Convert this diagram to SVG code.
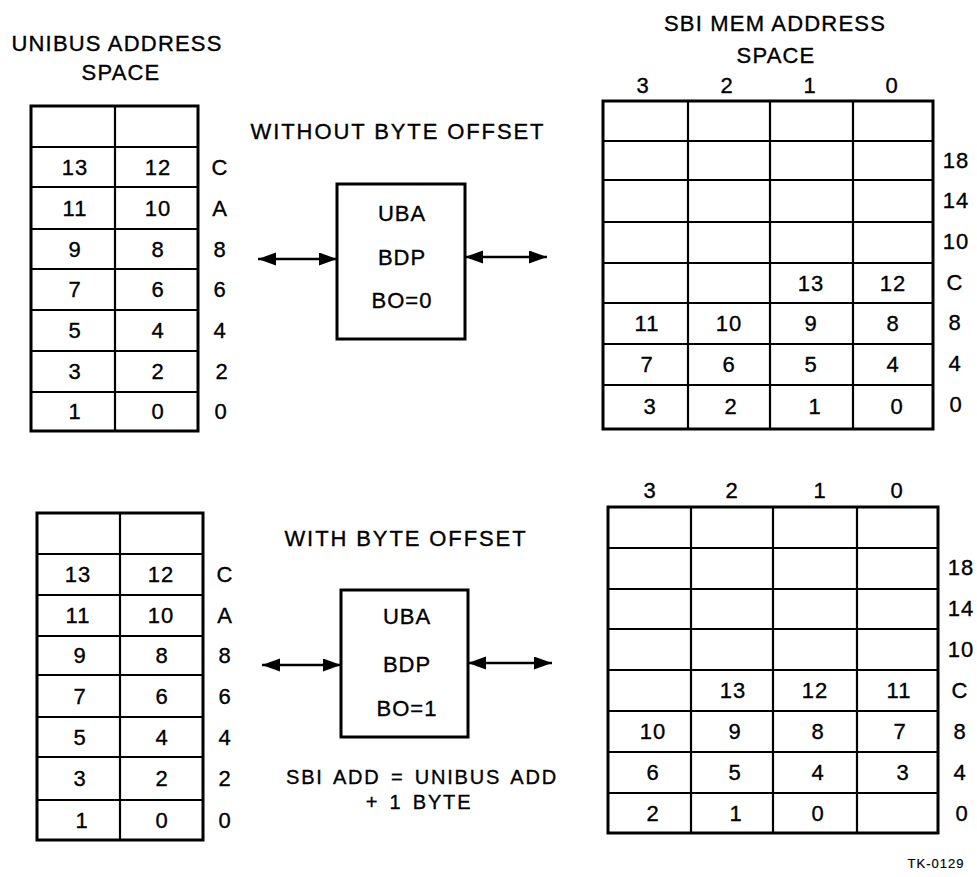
<svg xmlns="http://www.w3.org/2000/svg" width="977" height="877" viewBox="0 0 977 877">
<defs>
<style>
text{font-family:"Liberation Sans",Arial,sans-serif;font-size:22px;fill:#000;stroke:#000;stroke-width:0.35;text-anchor:middle;letter-spacing:1px}
.hd{font-size:22px;letter-spacing:1.2px}
.note{font-size:20px;letter-spacing:1.8px;word-spacing:3px}
.sm{font-size:13px;letter-spacing:1px;stroke-width:0.2}
.outer{fill:#fff;stroke:#000;stroke-width:3}
.grid{fill:none;stroke:#000;stroke-width:2.2}
.box{fill:#fff;stroke:#000;stroke-width:3}
.conn{stroke:#000;stroke-width:2.5;fill:none;marker-start:url(#ah);marker-end:url(#ah)}
</style>
<marker id="ah" markerUnits="userSpaceOnUse" markerWidth="20" markerHeight="14" refX="18" refY="6.5" orient="auto-start-reverse" viewBox="0 0 20 14">
<path d="M0,0 L18,6.5 L0,13 z" fill="#000"/>
</marker>
</defs>
<rect width="977" height="877" fill="#fff"/>

<g id="title-unibus">
<text class="hd" x="117" y="51">UNIBUS ADDRESS</text>
<text class="hd" x="121" y="80">SPACE</text>
</g>
<g id="title-sbi">
<text class="hd" x="775" y="31">SBI MEM ADDRESS</text>
<text class="hd" x="776" y="63">SPACE</text>
</g>

<g id="unibus-top">
<rect class="outer" x="31" y="106" width="167" height="325"/>
<path class="grid" d="M115,106V431 M31,147H198 M31,187H198 M31,229H198 M31,269H198 M31,310H198 M31,351H198 M31,392H198"/>
<text x="75" y="175">13</text><text x="158" y="175">12</text>
<text x="75" y="216">11</text><text x="158" y="216">10</text>
<text x="75" y="257">9</text><text x="158" y="257">8</text>
<text x="75" y="297">7</text><text x="158" y="297">6</text>
<text x="75" y="338">5</text><text x="158" y="338">4</text>
<text x="75" y="379">3</text><text x="158" y="379">2</text>
<text x="75" y="419">1</text><text x="158" y="419">0</text>
<text x="220" y="175">C</text>
<text x="220" y="216">A</text>
<text x="220" y="257">8</text>
<text x="220" y="297">6</text>
<text x="220" y="338">4</text>
<text x="222" y="379">2</text>
<text x="221" y="419">0</text>
</g>

<g id="uba-top">
<text x="398" y="139" style="letter-spacing:1.9px">WITHOUT BYTE OFFSET</text>
<rect class="box" x="337" y="184" width="128" height="155"/>
<text x="402" y="221">UBA</text>
<text x="402" y="265">BDP</text>
<text x="402" y="308">BO=0</text>
</g>

<g id="sbi-top">
<text x="643" y="93">3</text>
<text x="727" y="93">2</text>
<text x="810" y="93">1</text>
<text x="892" y="93">0</text>
<rect class="outer" x="603" y="101" width="330" height="328"/>
<path class="grid" d="M688,101V429 M770,101V429 M853,101V429 M603,141H933 M603,180H933 M603,222H933 M603,263H933 M603,303H933 M603,344H933 M603,385H933"/>
<text x="811" y="291">13</text><text x="893" y="291">12</text>
<text x="647" y="331">11</text><text x="729" y="331">10</text><text x="811" y="331">9</text><text x="893" y="331">8</text>
<text x="647" y="372">7</text><text x="729" y="372">6</text><text x="811" y="372">5</text><text x="893" y="372">4</text>
<text x="650" y="414">3</text><text x="731" y="414">2</text><text x="815" y="414">1</text><text x="897" y="414">0</text>
<text x="956" y="168">18</text>
<text x="956" y="208">14</text>
<text x="956" y="249">10</text>
<text x="955" y="290">C</text>
<text x="955" y="330">8</text>
<text x="955" y="371">4</text>
<text x="956" y="412">0</text>
</g>

<g id="unibus-bottom">
<rect class="outer" x="37" y="513" width="166" height="327"/>
<path class="grid" d="M120,513V840 M37,554H203 M37,595H203 M37,636H203 M37,675H203 M37,717H203 M37,757H203 M37,800H203"/>
<text x="78" y="582">13</text><text x="161" y="582">12</text>
<text x="78" y="623">11</text><text x="161" y="623">10</text>
<text x="80" y="663">9</text><text x="162" y="663">8</text>
<text x="80" y="704">7</text><text x="162" y="704">6</text>
<text x="80" y="745">5</text><text x="162" y="745">4</text>
<text x="80" y="786">3</text><text x="162" y="786">2</text>
<text x="82" y="828">1</text><text x="162" y="828">0</text>
<text x="225" y="582">C</text>
<text x="225" y="623">A</text>
<text x="225" y="663">8</text>
<text x="225" y="704">6</text>
<text x="225" y="745">4</text>
<text x="225" y="786">2</text>
<text x="225" y="828">0</text>
</g>

<g id="uba-bottom">
<text x="406" y="546" style="letter-spacing:1.9px">WITH BYTE OFFSET</text>
<rect class="box" x="341" y="590" width="127" height="147"/>
<text x="407" y="624">UBA</text>
<text x="407" y="672">BDP</text>
<text x="407" y="716">BO=1</text>
<text class="note" x="422" y="784">SBI ADD = UNIBUS ADD</text>
<text class="note" x="419" y="809">+ 1 BYTE</text>
</g>

<g id="sbi-bottom">
<text x="650" y="498">3</text>
<text x="732" y="498">2</text>
<text x="820" y="498">1</text>
<text x="897" y="498">0</text>
<rect class="outer" x="608" y="507" width="330" height="326"/>
<path class="grid" d="M691,507V833 M773,507V833 M857,507V833 M608,548H938 M608,589H938 M608,629H938 M608,670H938 M608,711H938 M608,752H938 M608,793H938"/>
<text x="733" y="698">13</text><text x="815" y="698">12</text><text x="899" y="698">11</text>
<text x="653" y="739">10</text><text x="735" y="739">9</text><text x="818" y="739">8</text><text x="900" y="739">7</text>
<text x="653" y="780">6</text><text x="735" y="780">5</text><text x="818" y="780">4</text><text x="903" y="780">3</text>
<text x="653" y="821">2</text><text x="736" y="821">1</text><text x="818" y="821">0</text>
<text x="961" y="575">18</text>
<text x="961" y="616">14</text>
<text x="961" y="657">10</text>
<text x="960" y="698">C</text>
<text x="960" y="739">8</text>
<text x="960" y="780">4</text>
<text x="962" y="821">0</text>
</g>

<g id="tag">
<text class="sm" x="936" y="868">TK-0129</text>
</g>

<g id="connectors">
<line class="conn" x1="258" y1="259" x2="337" y2="259"/>
<line class="conn" x1="465" y1="257" x2="547" y2="257"/>
<line class="conn" x1="262" y1="665" x2="341" y2="665"/>
<line class="conn" x1="468" y1="663" x2="552" y2="663"/>
</g>
</svg>
